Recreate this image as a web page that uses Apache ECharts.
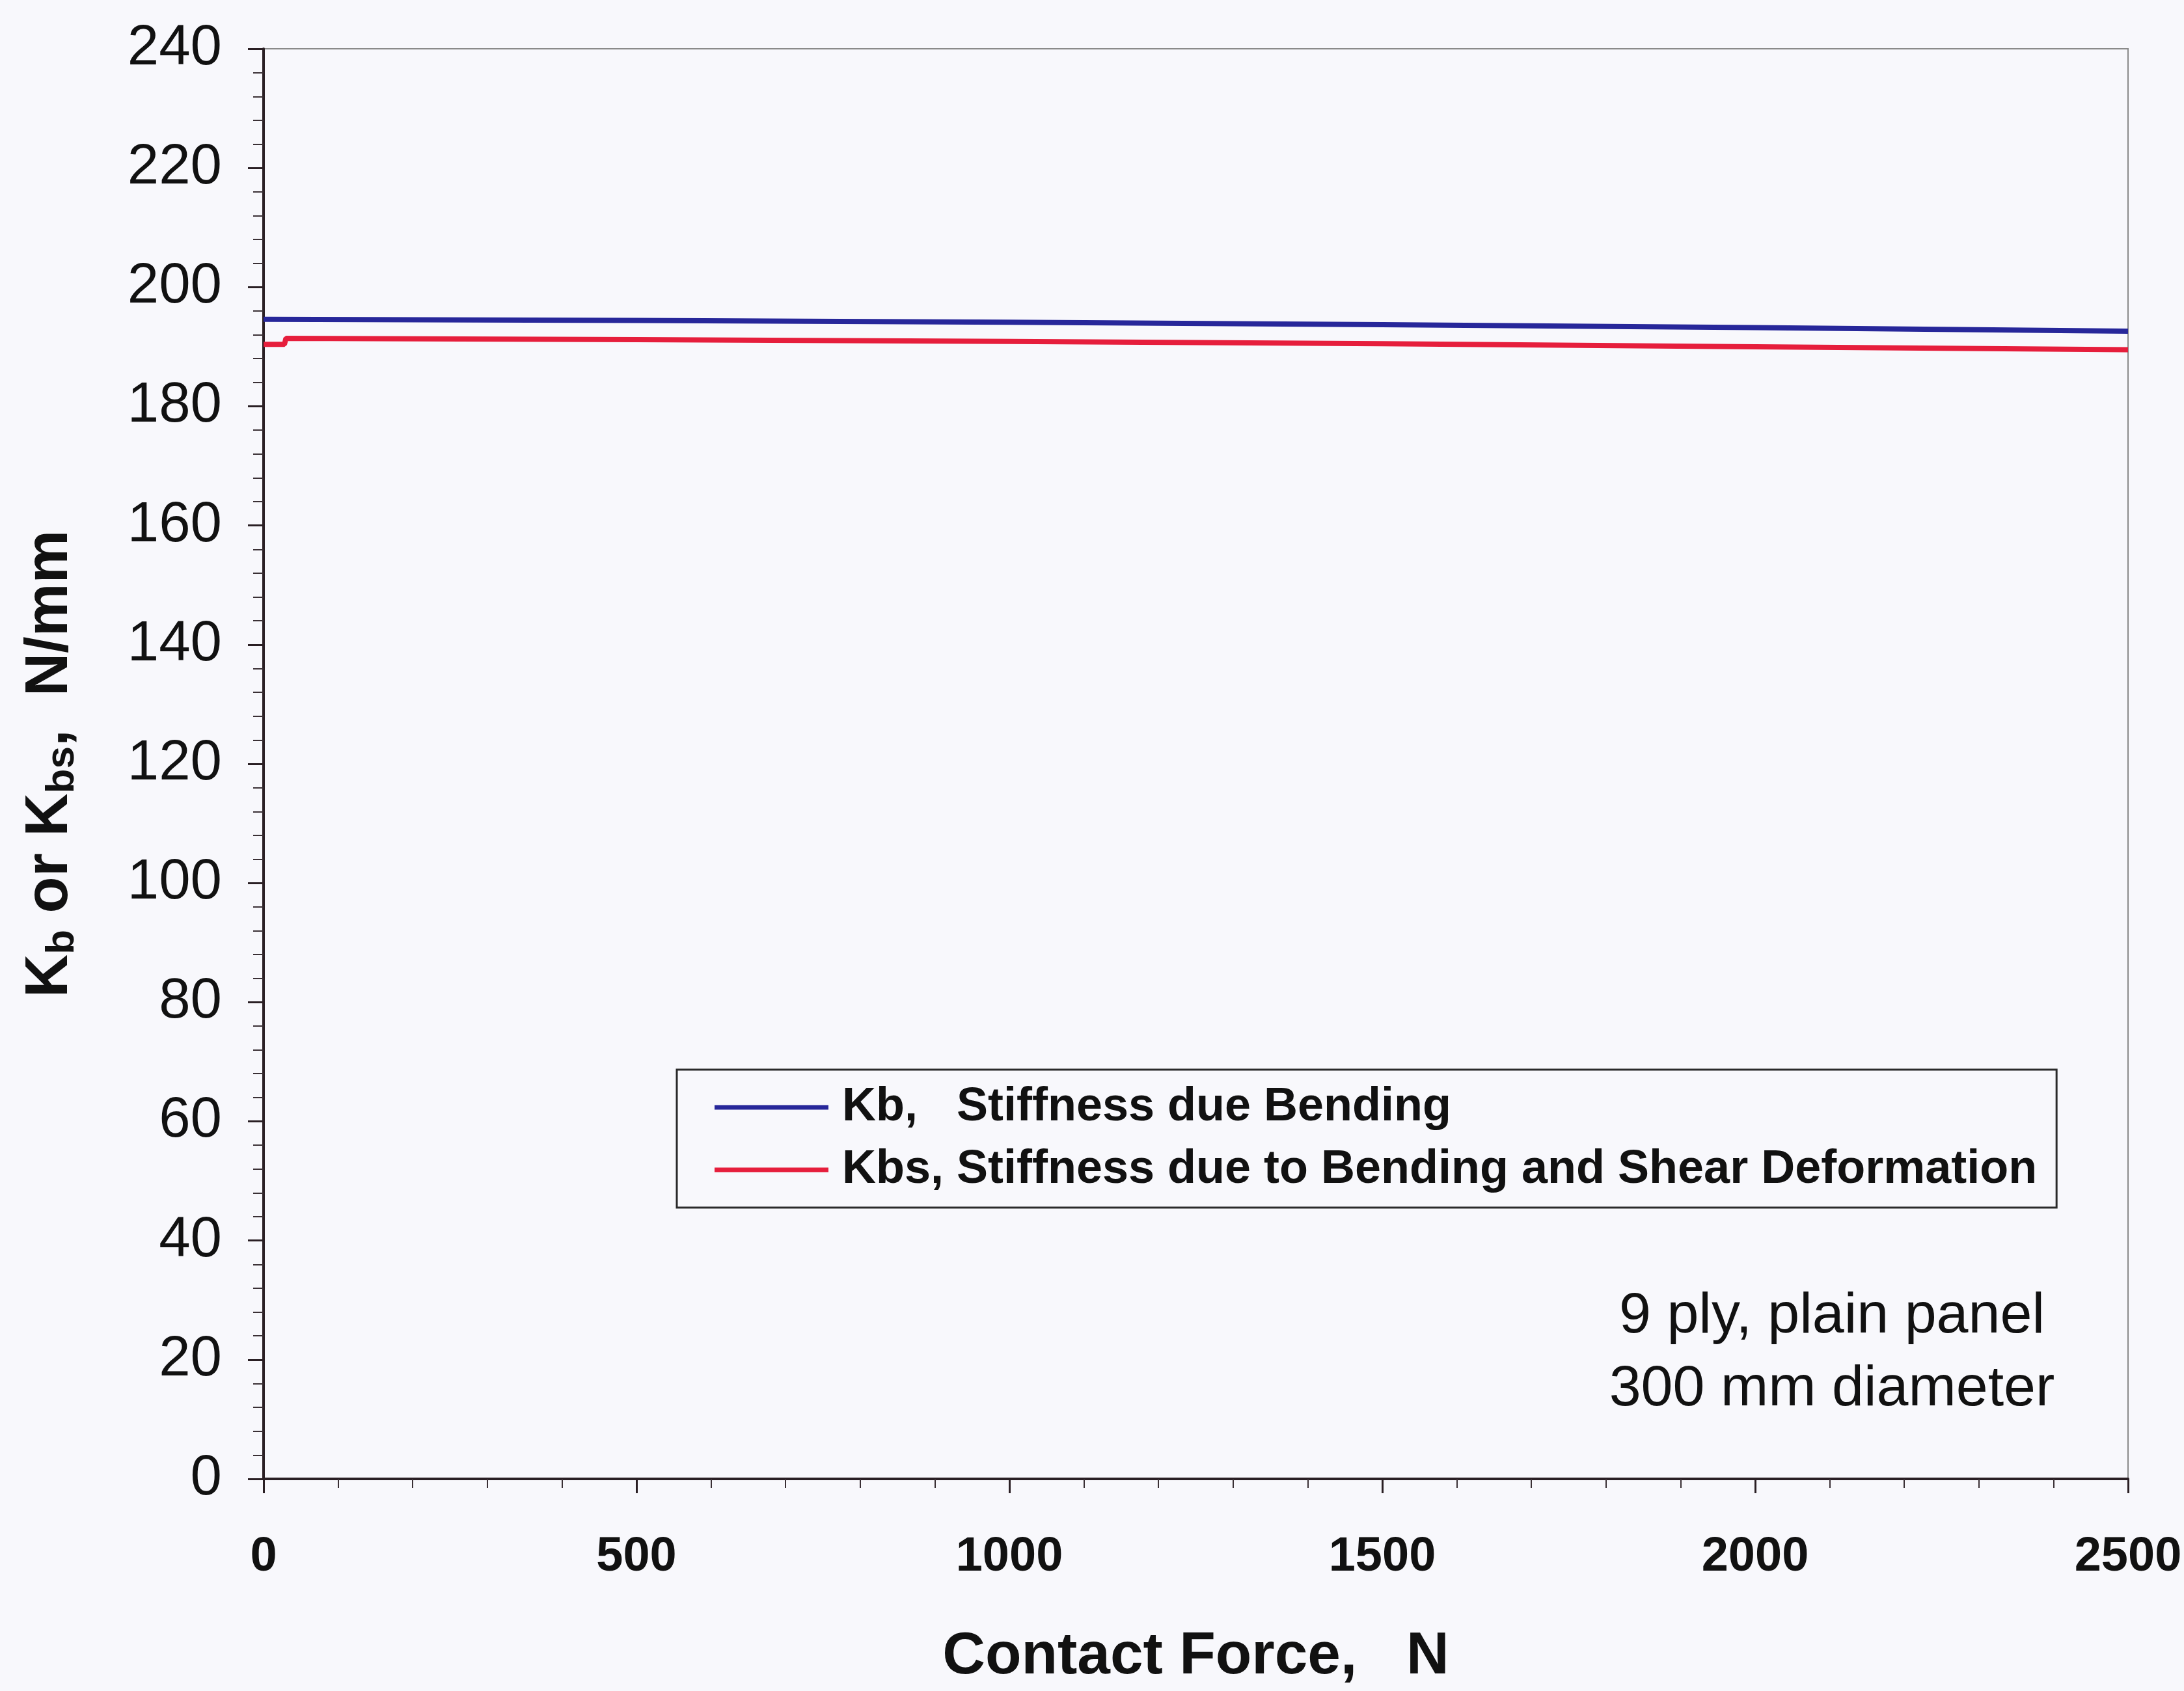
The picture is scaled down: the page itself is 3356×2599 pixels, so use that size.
<!DOCTYPE html>
<html>
<head>
<meta charset="utf-8">
<script src="https://cdn.jsdelivr.net/npm/echarts@6/dist/echarts.min.js"></script>
<style>
  html, body { margin: 0; padding: 0; background: #f8f8fc; }
  #chart { width: 3356px; height: 2599px; }
</style>
</head>
<body>
<div id="chart"></div>
<script>
// Contact force (N) and stiffness (N/mm) for the 9 ply plain panel
const kbForce  = [0, 500, 1000, 1500, 2000, 2500];
const kbValues = [194.6, 194.4, 194.1, 193.7, 193.2, 192.6];

const kbsForce  = [0, 28, 30, 500, 1000, 1500, 2000, 2500];
const kbsValues = [190.4, 190.4, 191.4, 191.2, 190.9, 190.5, 190.0, 189.5];

const kbName  = 'Kb,   Stiffness due Bending';
const kbsName = 'Kbs, Stiffness due to Bending and Shear Deformation';
const noteLines = ['9 ply, plain panel', '300 mm diameter'];

const pairs = (xs, ys) => xs.map((x, i) => [x, ys[i]]);

const font = '"Liberation Sans", Arial, sans-serif';

const chart = echarts.init(document.getElementById('chart'), null, { renderer: 'canvas' });

chart.setOption({
  backgroundColor: '#f8f8fc',
  animation: false,
  grid: {
    left: 405, right: 86, top: 75, bottom: 326,
    outerBoundsMode: 'none',
    containLabel: false,
    show: true,
    borderColor: '#8a8a8a',
    borderWidth: 2,
    backgroundColor: 'transparent'
  },
  xAxis: {
    type: 'value',
    min: 0, max: 2500, interval: 500,
    name: 'Contact Force,   N',
    nameLocation: 'middle',
    nameGap: 228,
    nameTextStyle: { fontFamily: font, fontWeight: 'bold', fontSize: 91, color: '#111' },
    axisLine: { show: true, lineStyle: { color: '#2a1f24', width: 4 } },
    axisTick: { show: true, length: 22, lineStyle: { color: '#2a1f24', width: 3 } },
    minorTick: { show: true, splitNumber: 5, length: 14, lineStyle: { color: '#3a3035', width: 2 } },
    splitLine: { show: false },
    axisLabel: {
      fontFamily: font, fontWeight: 'bold', fontSize: 74, color: '#111', margin: 84,
      formatter: v => String(v)
    }
  },
  yAxis: {
    type: 'value',
    min: 0, max: 240, interval: 20,
    name: 'K{sub|b} or K{sub|bs},  N/mm',
    nameLocation: 'middle',
    nameGap: 278,
    nameRotate: 90,
    nameTextStyle: {
      fontFamily: font, fontWeight: 'bold', fontSize: 92, color: '#111',
      rich: {
        sub: { fontFamily: font, fontWeight: 'bold', fontSize: 62, color: '#111', padding: [36, 0, 0, 0] }
      }
    },
    axisLine: { show: true, lineStyle: { color: '#2a1f24', width: 4 } },
    axisTick: { show: true, length: 24, lineStyle: { color: '#2a1f24', width: 3 } },
    minorTick: { show: true, splitNumber: 5, length: 16, lineStyle: { color: '#3a3035', width: 2 } },
    splitLine: { show: false },
    axisLabel: { fontFamily: font, fontSize: 87, color: '#111', margin: 64 }
  },
  legend: {
    orient: 'vertical',
    left: 1040, top: 1644,
    padding: [22, 30, 22, 58],
    itemGap: 24,
    itemWidth: 175,
    itemHeight: 7,
    icon: 'rect',
    backgroundColor: '#f8f8fc',
    borderColor: '#2a2a2a',
    borderWidth: 3,
    textStyle: { fontFamily: font, fontWeight: 'bold', fontSize: 72, color: '#111', padding: [0, 0, 0, 16] },
    data: [kbName, kbsName]
  },
  graphic: noteLines.map((t, i) => ({
    type: 'text',
    x: 2815, y: 2024 + i * 112,
    style: {
      text: t, fill: '#111', fontFamily: font, fontSize: 88,
      textAlign: 'center', textVerticalAlign: 'middle'
    }
  })),
  series: [
    {
      name: kbName, type: 'line',
      data: pairs(kbForce, kbValues),
      showSymbol: false,
      lineStyle: { color: '#27279a', width: 8 },
      itemStyle: { color: '#27279a' }
    },
    {
      name: kbsName, type: 'line',
      data: pairs(kbsForce, kbsValues),
      showSymbol: false,
      lineStyle: { color: '#e61e3c', width: 8 },
      itemStyle: { color: '#e61e3c' }
    }
  ]
});
</script>
</body>
</html>
